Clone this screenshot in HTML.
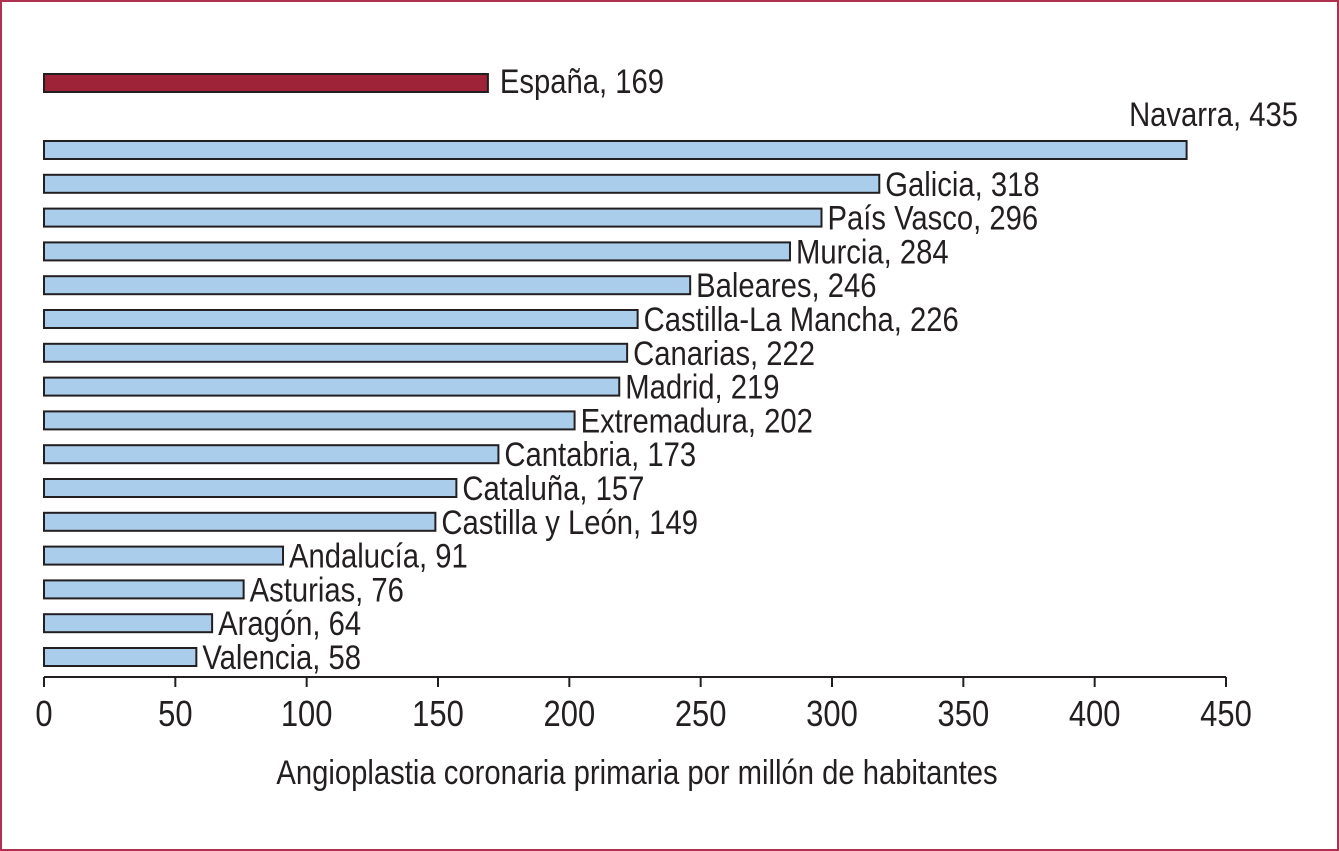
<!DOCTYPE html>
<html><head><meta charset="utf-8"><style>
html,body{margin:0;padding:0;background:#fff}
svg{display:block}
text{font-family:"Liberation Sans Narrow","Liberation Sans",sans-serif;fill:#231f20}
</style></head><body>
<svg id="chart" width="1339" height="851" viewBox="0 0 1339 851" xmlns="http://www.w3.org/2000/svg">
<rect x="1" y="1" width="1337" height="849" fill="#fff" stroke="#b03050" stroke-width="2"/>
<g id="plot"></g>
</svg>
<script>
const regions=["Navarra","Galicia","País Vasco","Murcia","Baleares","Castilla-La Mancha","Canarias","Madrid","Extremadura","Cantabria","Cataluña","Castilla y León","Andalucía","Asturias","Aragón","Valencia"];
const values=[435,318,296,284,246,226,222,219,202,173,157,149,91,76,64,58];
const nationalLabel=["España"];
const nationalValue=[169];
const ticks=[0,50,100,150,200,250,300,350,400,450];

const NS="http://www.w3.org/2000/svg";
const g=document.getElementById('plot');
const x0=44,x1=1226,xmax=450;
const X=v=>x0+(x1-x0)*v/xmax;
const rowY=i=>150+i*33.8;
const BH=18;
const SX=0.86;
function el(t,a){const e=document.createElementNS(NS,t);for(const k in a)e.setAttribute(k,a[k]);g.appendChild(e);return e;}
function txt(x,y,size,anchor){return el('text',{x:0,y:0,'font-size':size,'text-anchor':anchor||'start',transform:'translate('+x+','+y+') scale('+SX+',1)'});}

const nb=el('rect',{x:X(0),y:83-BH/2,width:X(nationalValue[0])-X(0),height:BH,fill:'#9e2238',stroke:'#231f20','stroke-width':2});


const nt=txt(X(nationalValue[0])+12,93,34);
nt.textContent=nationalLabel[0]+', '+nationalValue[0];



regions.forEach((r,i)=>{
  const cy=rowY(i);
  const b=el('rect',{x:X(0),y:cy-BH/2,width:X(values[i])-X(0),height:BH,fill:'#abcdec',stroke:'#231f20','stroke-width':2});
  
  
  let t;
  if(i===0){t=txt(1298,126,34,'end');}
  else{t=txt(X(values[i])+6,cy+12,34);}
  t.textContent=r+', '+values[i];
  
  
});

const ax=el('line',{x1:X(0),x2:X(xmax),y1:677,y2:677,stroke:'#231f20','stroke-width':2});


ticks.forEach(v=>{
  const tk=el('line',{x1:X(v),x2:X(v),y1:677,y2:687,stroke:'#231f20','stroke-width':2});
  
  
  const tl=txt(X(v),726,36,'middle');
  tl.textContent=v;
  
  
});
const tt=txt(637,784,34,'middle');
tt.textContent='Angioplastia coronaria primaria por millón de habitantes';


</script>
</body></html>
